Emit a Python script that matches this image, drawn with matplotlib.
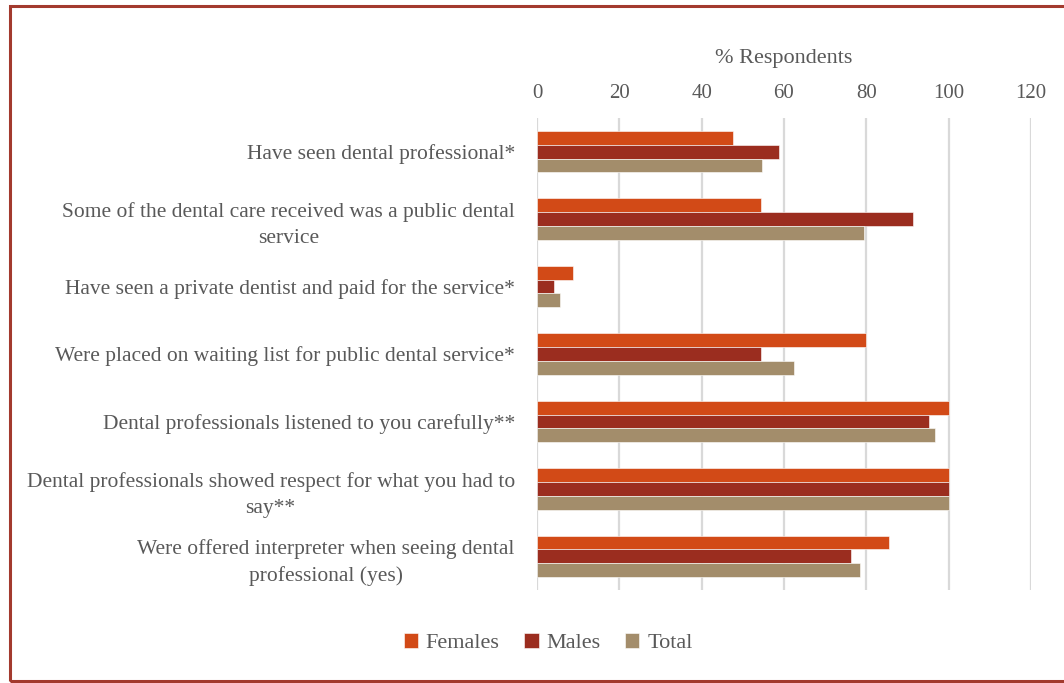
import matplotlib.pyplot as plt
from matplotlib.patches import Rectangle
import numpy as np

plt.rcParams['font.family'] = ['Liberation Serif', 'DejaVu Serif']

categories = [
    "Have seen dental professional*",
    "Some of the dental care received was a public dental\nservice",
    "Have seen a private dentist and paid for the service*",
    "Were placed on waiting list for public dental service*",
    "Dental professionals listened to you carefully**",
    "Dental professionals showed respect for what you had to\nsay**",
    "Were offered interpreter when seeing dental\nprofessional (yes)",
]
females = [47.6, 54.5, 8.8, 80.0, 100.0, 100.0, 85.6]
males = [58.9, 91.3, 4.2, 54.3, 95.2, 100.0, 76.2]
total = [54.7, 79.4, 5.7, 62.4, 96.6, 100.0, 78.5]
series = [("Females", females, "#D24A17"),
          ("Males", males, "#9B2D1F"),
          ("Total", total, "#A38D6B")]
xticks = [0, 20, 40, 60, 80, 100, 120]

text_col = "#595959"

fig = plt.figure(figsize=(10.64, 6.83), dpi=100)
ax = fig.add_axes([537 / 1064, 1 - 590 / 683, (1031 - 537) / 1064, (590 - 118) / 683])

n = len(categories)
y = np.arange(n)
h = 0.205
for k, (name, vals, col) in enumerate(series):
    ax.barh(y + (k - 1) * h, vals, height=h, color=col, label=name,
            edgecolor="white", linewidth=0.4, zorder=3)

ax.set_xlim(0, 120)
ax.set_ylim(n - 0.5, -0.5)
ax.set_xticks(xticks)
ax.xaxis.tick_top()
ax.xaxis.set_label_position("top")
ax.set_xlabel("% Respondents", fontsize=16, color=text_col, labelpad=15)
ax.tick_params(axis="x", length=0, pad=11, labelsize=15, labelcolor=text_col)
ax.set_yticks(y)
ax.set_yticklabels(categories, fontsize=15.5, color=text_col, ha="right",
                   multialignment="center", linespacing=1.5)
ax.tick_params(axis="y", length=0, pad=16)
ax.grid(axis="x", color="#d9d9d9", linewidth=1.6, zorder=0)
for s in ax.spines.values():
    s.set_visible(False)

ax.legend(loc="center", bbox_to_anchor=(548 / 1064, 1 - 643 / 683),
          bbox_transform=fig.transFigure, ncol=3, frameon=False,
          fontsize=16, handlelength=0.65, handleheight=0.65,
          handletextpad=0.35, columnspacing=1.1, labelcolor=text_col,
          borderaxespad=0)

# chart border
fig.patches.append(Rectangle((10 / 1064, 1 - 681 / 683), 1.1, 675 / 683,
                             transform=fig.transFigure, fill=False,
                             edgecolor="#A33A2E", linewidth=2.2))

fig.savefig("out.png", dpi=100)
